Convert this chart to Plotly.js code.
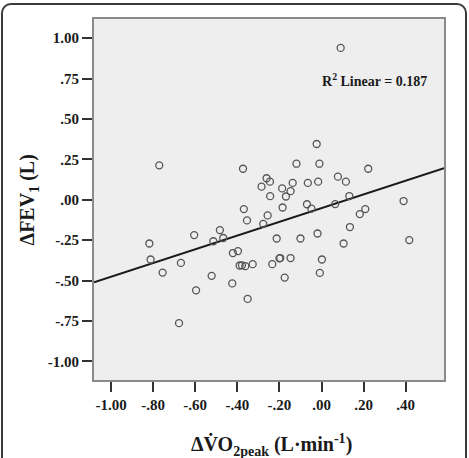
<!DOCTYPE html>
<html>
<head>
<meta charset="utf-8">
<script src="https://cdn.plot.ly/plotly-3.0.1.min.js"></script>
<style>
html,body{margin:0;padding:0;background:#fff;}
#wrap{position:relative;width:469px;height:458px;overflow:hidden;}
#chart{width:469px;height:458px;}
#frame{position:absolute;left:1px;top:3px;width:462px;height:480px;border:2px solid #3a3a3a;border-radius:10px;pointer-events:none;}
</style>
</head>
<body>
<div id="wrap"><div id="chart"></div><div id="frame"></div></div>
<script>
// ΔVO2peak (L·min-1)
const xValues = [-0.771,-0.373,-0.119,-0.261,-0.245,-0.285,-0.137,-0.065,-0.187,-0.147,
  -0.244,-0.169,-0.069,-0.369,-0.185,-0.354,-0.256,-0.277,-0.483,-0.605,
  -0.514,-0.467,-0.213,-0.100,-0.818,-0.812,-0.668,-0.755,-0.421,-0.397,
  -0.196,-0.200,-0.147,-0.389,-0.378,-0.362,-0.327,-0.234,-0.522,-0.424,
  -0.175,-0.596,-0.351,-0.677,-0.023,-0.010,0.222,0.078,0.116,-0.016,
  0.132,-0.048,0.065,0.182,0.208,0.390,0.135,-0.019,0.105,0.417,
  0.002,-0.008,0.091];
// ΔFEV1 (L)
const yValues = [0.213,0.192,0.223,0.133,0.112,0.081,0.104,0.104,0.070,0.053,
  0.022,0.020,-0.028,-0.058,-0.048,-0.128,-0.097,-0.149,-0.188,-0.219,
  -0.257,-0.237,-0.240,-0.240,-0.271,-0.370,-0.391,-0.451,-0.330,-0.318,
  -0.361,-0.363,-0.361,-0.407,-0.406,-0.411,-0.399,-0.399,-0.471,-0.518,
  -0.482,-0.561,-0.614,-0.764,0.345,0.223,0.192,0.143,0.112,0.112,
  0.023,-0.055,-0.027,-0.089,-0.058,-0.008,-0.169,-0.209,-0.271,-0.250,
  -0.370,-0.453,0.940];
// linear fit
const fitIntercept = -0.052;
const fitSlope = 0.425;
const rSquared = 0.187;

const xTickVals = [-1.0,-0.8,-0.6,-0.4,-0.2,0.0,0.2,0.4];
const xTickText = ['-1.00','-.80','-.60','-.40','-.20','.00','.20','.40'];
const yTickVals = [1.0,0.75,0.5,0.25,0.0,-0.25,-0.5,-0.75,-1.0];
const yTickText = ['1.00','.75','.50','.25','.00','-.25','-.50','-.75','-1.00'];

const xRange = [-1.081, 0.582];
const yRange = [-1.116, 1.119];

const fitX = [xRange[0], xRange[1]];
const fitY = fitX.map(v => fitIntercept + fitSlope * v);

const serif = '"Liberation Serif", "Times New Roman", serif';

const traces = [
  {x: fitX, y: fitY, mode: 'lines', type: 'scatter', line: {color: '#1a1a1a', width: 2}, hoverinfo: 'skip', showlegend: false},
  {x: xValues, y: yValues, mode: 'markers', type: 'scatter',
   marker: {symbol: 'circle-open', size: 7, color: '#555', line: {width: 1.3, color: '#555'}}, showlegend: false}
];

const axisCommon = {
  showgrid: false, zeroline: false, showline: true, mirror: true,
  linecolor: '#8a8a8a', linewidth: 2,
  ticks: 'outside', ticklen: 10, tickwidth: 2, tickcolor: '#333',
  tickfont: {family: serif, size: 15, color: '#1a1a1a', weight: 'bold'}
};

const layout = {
  width: 469, height: 458,
  margin: {l: 94, r: 25, t: 19, b: 78},
  paper_bgcolor: '#ffffff',
  plot_bgcolor: '#eeeeee',
  xaxis: Object.assign({}, axisCommon, {range: xRange, tickvals: xTickVals, ticktext: xTickText}),
  yaxis: Object.assign({}, axisCommon, {range: yRange, tickvals: yTickVals, ticktext: yTickText}),
  annotations: [
    {xref: 'x', yref: 'y', x: -0.008, y: 0.744, xanchor: 'left', yanchor: 'middle', showarrow: false,
     text: 'R<sup>2</sup> Linear = ' + rSquared.toFixed(3),
     font: {family: serif, size: 14, color: '#1a1a1a', weight: 'bold'}},
    {xref: 'paper', yref: 'paper', x: -0.186, y: 0.5, xanchor: 'center', yanchor: 'middle', showarrow: false,
     textangle: -90, text: 'ΔFEV<sub>1</sub> (L)',
     font: {family: serif, size: 20, color: '#1a1a1a', weight: 'bold'}},
    {xref: 'paper', yref: 'paper', x: 0.508, y: -0.18, xanchor: 'center', yanchor: 'middle', showarrow: false,
     text: 'ΔV\u0307O<sub>2peak</sub> (L·min<sup>-1</sup>)',
     font: {family: serif, size: 20, color: '#1a1a1a', weight: 'bold'}}
  ]
};

Plotly.newPlot('chart', traces, layout, {displayModeBar: false, staticPlot: true});
</script>
</body>
</html>
